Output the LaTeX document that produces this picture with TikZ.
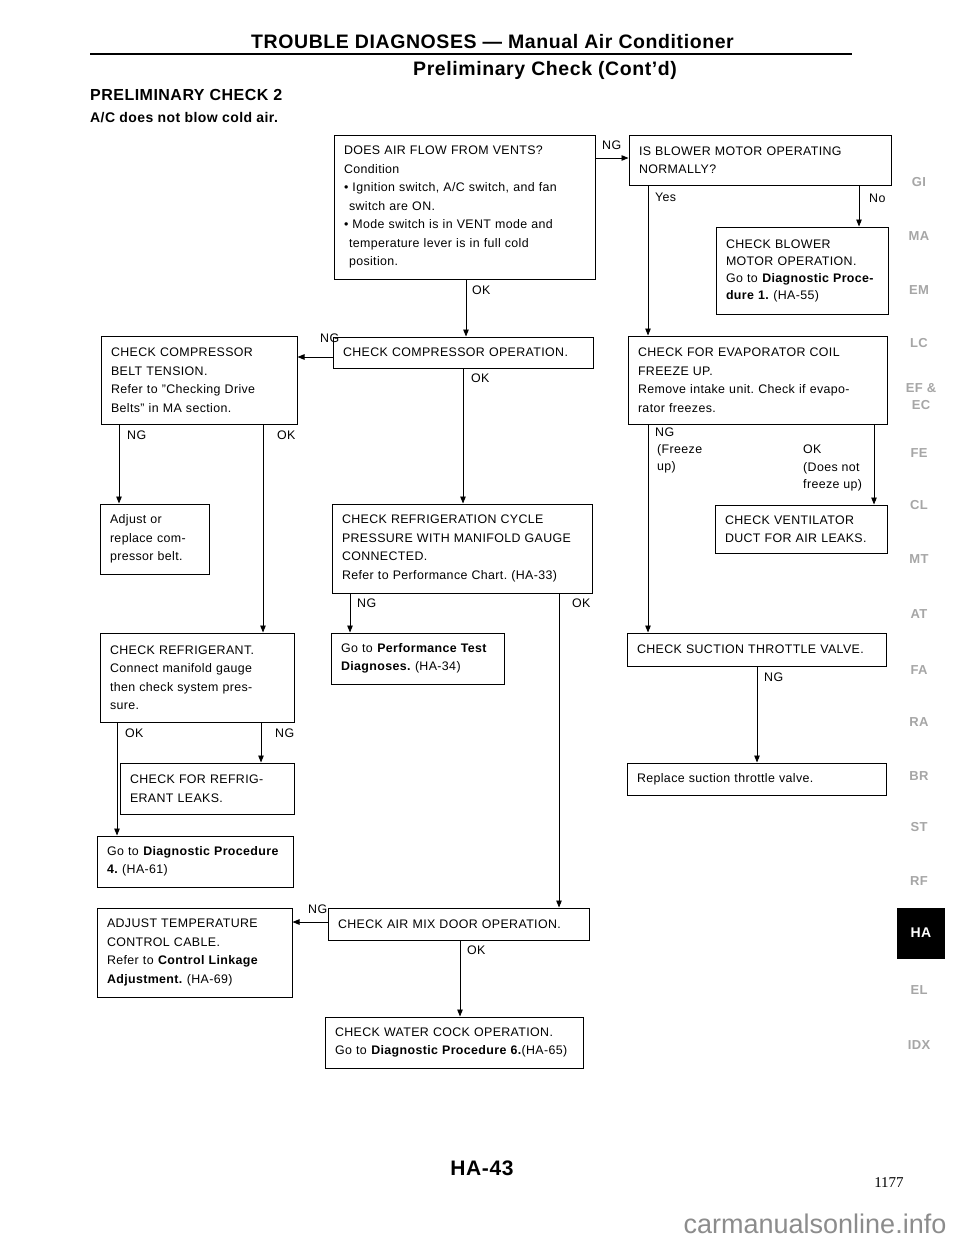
\documentclass[tikz,border=0pt]{standalone}
\usepackage{fontspec}
\setmainfont{Liberation Sans}[LetterSpace=3]
\newfontfamily\plainsans{Liberation Sans}
\newfontfamily\serifnum{Liberation Serif}
\usetikzlibrary{arrows.meta}
\frenchspacing
\tikzset{
  box/.style={draw, line width=1pt, rectangle, inner xsep=10pt, inner ysep=0pt, align=left,
    font=\frenchspacing\fontsize{12.4}{18.5}\selectfont},
  conn/.style={line width=0.9pt, -{Triangle[length=7pt,width=5.5pt]}},
  lbl/.style={anchor=west, inner sep=0pt, font=\fontsize{12.4}{17}\selectfont},
  tab/.style={text=black!35, inner sep=0pt, align=center, font=\bfseries\fontsize{13}{15}\selectfont},
}
\begin{document}
\begin{tikzpicture}[x=1pt,y=-1pt]
\useasboundingbox (0,0) rectangle (960,1242);
\fill[white] (0,0) rectangle (960,1242);

% header
\node[anchor=west, inner sep=0pt, font=\bfseries\fontsize{19.5}{21}\selectfont] (title) at (251,42) {TROUBLE DIAGNOSES --- Manual Air Conditioner};
\draw[line width=2.6pt] (90,54) -- (852,54);
\node[anchor=west, inner sep=0pt, font=\bfseries\fontsize{19.5}{21}\selectfont] (sub) at (413,70) {Preliminary Check (Cont'd)};
\node[anchor=west, inner sep=0pt, font=\bfseries\fontsize{16}{18}\selectfont] (pc) at (90,95) {PRELIMINARY CHECK 2};
\node[anchor=west, inner sep=0pt, font=\bfseries\fontsize{14}{16}\selectfont] (sym) at (90,118) {A/C does not blow cold air.};

% boxes
\node[box, minimum width=261pt, minimum height=144pt, text width=241pt] (b1) at (464.5,207) {DOES AIR FLOW FROM VENTS?\\Condition\\\textbullet\ Ignition switch, A/C switch, and fan\\\hspace*{5pt}switch are ON.\\\textbullet\ Mode switch is in VENT mode and\\\hspace*{5pt}temperature lever is in full cold\\\hspace*{5pt}position.};
\node[box, minimum width=262pt, minimum height=50pt, text width=242pt] (b2) at (760,160) {IS BLOWER MOTOR OPERATING\\NORMALLY?};
\node[box, minimum width=172pt, minimum height=87pt, text width=152pt, font=\frenchspacing\fontsize{12.4}{17}\selectfont] (b3) at (802,270.5) {CHECK BLOWER\\MOTOR OPERATION.\\Go to \textbf{Diagnostic Proce-}\\\textbf{dure 1.} (HA-55)};
\node[box, minimum width=260pt, minimum height=31pt, text width=240pt] (cc) at (463,352.5) {CHECK COMPRESSOR OPERATION.};
\node[box, minimum width=196pt, minimum height=88pt, text width=176pt] (belt) at (199,380) {CHECK COMPRESSOR\\BELT TENSION.\\Refer to {\char34}Checking Drive\\Belts{\char34} in MA section.};
\node[box, minimum width=109pt, minimum height=70pt, text width=89pt] (adj) at (154.5,539) {Adjust or\\replace com-\\pressor belt.};
\node[box, minimum width=260pt, minimum height=89pt, text width=240pt] (rc) at (462,548.5) {CHECK REFRIGERATION CYCLE\\PRESSURE WITH MANIFOLD GAUGE\\CONNECTED.\\Refer to Performance Chart. (HA-33)};
\node[box, minimum width=173pt, minimum height=51pt, text width=153pt] (perf) at (417.5,658.5) {Go to \textbf{Performance Test}\\\textbf{Diagnoses.} (HA-34)};
\node[box, minimum width=194pt, minimum height=89pt, text width=174pt] (refr) at (197,677.5) {CHECK REFRIGERANT.\\Connect manifold gauge\\then check system pres-\\sure.};
\node[box, minimum width=174pt, minimum height=51pt, text width=154pt] (leaks) at (207,788.5) {CHECK FOR REFRIG-\\ERANT LEAKS.};
\node[box, minimum width=196pt, minimum height=51pt, text width=176pt] (diag4) at (195,861.5) {Go to \textbf{Diagnostic Procedure}\\\textbf{4.} (HA-61)};
\node[box, minimum width=195pt, minimum height=89pt, text width=175pt] (adjtemp) at (194.5,952.5) {ADJUST TEMPERATURE\\CONTROL CABLE.\\Refer to \textbf{Control Linkage}\\\textbf{Adjustment.} (HA-69)};
\node[box, minimum width=261pt, minimum height=32pt, text width=241pt] (airmix) at (458.5,924) {CHECK AIR MIX DOOR OPERATION.};
\node[box, minimum width=258pt, minimum height=51pt, text width=238pt] (water) at (454,1042.5) {CHECK WATER COCK OPERATION.\\Go to \textbf{Diagnostic Procedure 6.}(HA-65)};
\node[box, minimum width=259pt, minimum height=88pt, text width=239pt] (evap) at (757.5,380) {CHECK FOR EVAPORATOR COIL\\FREEZE UP.\\Remove intake unit. Check if evapo-\\rator freezes.};
\node[box, minimum width=172pt, minimum height=48pt, text width=152pt] (vent) at (801,529) {CHECK VENTILATOR\\DUCT FOR AIR LEAKS.};
\node[box, minimum width=259pt, minimum height=33pt, text width=239pt] (suction) at (756.5,649.5) {CHECK SUCTION THROTTLE VALVE.};
\node[box, minimum width=259pt, minimum height=32pt, text width=239pt] (replace) at (756.5,779) {Replace suction throttle valve.};

% connector guide coordinates
\coordinate (yNG1) at (0,158);
\coordinate (xOK1) at (466,0);
\coordinate (xYes) at (648,0);
\coordinate (xNo) at (859,0);
\coordinate (yNG2) at (0,357);
\coordinate (xOK2) at (463,0);
\coordinate (xBNG) at (119,0);
\coordinate (xBOK) at (263,0);
\coordinate (xRNG) at (350,0);
\coordinate (xROK) at (559,0);
\coordinate (xFOK) at (117,0);
\coordinate (xFNG) at (261,0);
\coordinate (yANG) at (0,922);
\coordinate (xAOK) at (460,0);
\coordinate (xENG) at (648,0);
\coordinate (xEOK) at (874,0);
\coordinate (xSNG) at (757,0);

% connectors
\draw[conn] (b1.east |- yNG1) -- (b2.west |- yNG1);
\draw[conn] (b1.south -| xOK1) -- (cc.north -| xOK1);
\draw[conn] (b2.south -| xYes) -- (evap.north -| xYes);
\draw[conn] (b2.south -| xNo) -- (b3.north -| xNo);
\draw[conn] (cc.west |- yNG2) -- (belt.east |- yNG2);
\draw[conn] (cc.south -| xOK2) -- (rc.north -| xOK2);
\draw[conn] (belt.south -| xBNG) -- (adj.north -| xBNG);
\draw[conn] (belt.south -| xBOK) -- (refr.north -| xBOK);
\draw[conn] (rc.south -| xRNG) -- (perf.north -| xRNG);
\draw[conn] (rc.south -| xROK) -- (airmix.north -| xROK);
\draw[conn] (refr.south -| xFOK) -- (diag4.north -| xFOK);
\draw[conn] (refr.south -| xFNG) -- (leaks.north -| xFNG);
\draw[conn] (airmix.west |- yANG) -- (adjtemp.east |- yANG);
\draw[conn] (airmix.south -| xAOK) -- (water.north -| xAOK);
\draw[conn] (evap.south -| xENG) -- (suction.north -| xENG);
\draw[conn] (evap.south -| xEOK) -- (vent.north -| xEOK);
\draw[conn] (suction.south -| xSNG) -- (replace.north -| xSNG);

% connector labels
\node[lbl] (l1) at (602,145) {NG};
\node[lbl] (l2) at (472,290) {OK};
\node[lbl] (l3) at (655,197) {Yes};
\node[lbl] (l4) at (869,198) {No};
\node[lbl] (l5) at (320,338) {NG};
\node[lbl] (l6) at (471,378) {OK};
\node[lbl] (l7) at (127,435) {NG};
\node[lbl] (l8) at (277,435) {OK};
\node[lbl] (l9) at (357,603) {NG};
\node[lbl] (l10) at (572,603) {OK};
\node[lbl] (l11) at (125,733) {OK};
\node[lbl] (l12) at (275,733) {NG};
\node[lbl] (l13) at (308,909) {NG};
\node[lbl] (l14) at (467,950) {OK};
\node[lbl, anchor=north west, align=left, font=\fontsize{12.4}{17}\selectfont] (l15) at (655,428) {NG\\\hspace*{2pt}(Freeze\\\hspace*{2pt}up)};
\node[lbl, anchor=north west, align=left, font=\fontsize{12.4}{17.5}\selectfont] (l16) at (803,445) {OK\\(Does not\\freeze up)};
\node[lbl] (l17) at (764,677) {NG};

% side tabs
\node[tab] (tGI) at (919,182) {GI};
\node[tab] (tMA) at (919,236) {MA};
\node[tab] (tEM) at (919,290) {EM};
\node[tab] (tLC) at (919,343) {LC};
\node[tab, font=\bfseries\fontsize{13}{17}\selectfont] (tEF) at (921,397) {EF \&\\EC};
\node[tab] (tFE) at (919,453) {FE};
\node[tab] (tCL) at (919,505) {CL};
\node[tab] (tMT) at (919,559) {MT};
\node[tab] (tAT) at (919,614) {AT};
\node[tab] (tFA) at (919,670) {FA};
\node[tab] (tRA) at (919,722) {RA};
\node[tab] (tBR) at (919,776) {BR};
\node[tab] (tST) at (919,827) {ST};
\node[tab] (tRF) at (919,881) {RF};
\node[fill=black, minimum width=48pt, minimum height=51pt, inner sep=0pt, text=white, font=\bfseries\fontsize{14}{16}\selectfont] (tHA) at (921,933) {HA};
\node[tab] (tEL) at (919,990) {EL};
\node[tab] (tIDX) at (919,1045) {IDX};

% footer
\node[inner sep=0pt, font=\bfseries\fontsize{21}{23}\selectfont] (page) at (482,1168) {HA-43};
\node[inner sep=0pt, font=\serifnum\fontsize{15}{17}\selectfont] (num) at (889,1183) {1177};
\node[inner sep=0pt, text=black!45, font=\plainsans\fontsize{27}{30}\selectfont] (wm) at (815,1224) {carmanualsonline.info};
\end{tikzpicture}
\end{document}
